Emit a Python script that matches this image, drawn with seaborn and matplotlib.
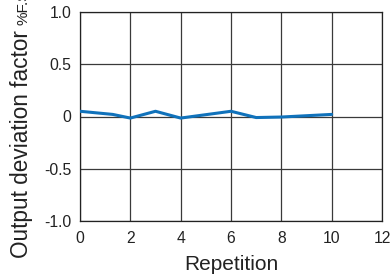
import numpy as np
import pandas as pd
import matplotlib
matplotlib.use("Agg")
import matplotlib.pyplot as plt
import seaborn as sns

# values
repetition = [0, 1.3, 2, 3, 4, 6, 7, 8, 10]
deviation = [0.05, 0.02, -0.015, 0.05, -0.015, 0.05, -0.01, -0.005, 0.02]
x_ticks = [0, 2, 4, 6, 8, 10, 12]
y_ticks = [-1.0, -0.5, 0, 0.5, 1.0]
y_tick_labels = ["-1.0", "-0.5", "0", "0.5", "1.0"]

sns.set_style("white")
plt.rcParams["font.family"] = ["Liberation Sans", "DejaVu Sans"]

df = pd.DataFrame({"Repetition": repetition, "Deviation": deviation})

fig = plt.figure(figsize=(3.9, 2.8), dpi=100)
ax = fig.add_axes([80 / 390, 1 - 221 / 280, 302 / 390, 209 / 280])

sns.lineplot(data=df, x="Repetition", y="Deviation", ax=ax,
             color="#1072bb", linewidth=2.2, zorder=3)

ax.set_xlim(0, 12)
ax.set_ylim(-1.0, 1.0)
ax.set_xticks(x_ticks)
ax.set_yticks(y_ticks)
ax.set_yticklabels(y_tick_labels)
ax.grid(True, color="#3a3a3a", linewidth=0.9)
ax.tick_params(axis="both", length=0, labelsize=11.3, colors="#222222")
ax.tick_params(axis="x", pad=7)
ax.tick_params(axis="y", pad=6)
for s in ax.spines.values():
    s.set_color("#222222")
    s.set_linewidth(0.9)

ax.set_xlabel("Repetition", fontsize=15, color="#222222", labelpad=7)
ax.set_ylabel("")

# y label: big text plus smaller unit, drawn rotated from the bottom
big = fig.text(28 / 390, 1 - 258 / 280, "Output deviation factor", rotation=90,
               rotation_mode="anchor", ha="left", va="baseline",
               fontsize=16.3, color="#222222")
fig.canvas.draw()
bb = big.get_window_extent().transformed(fig.transFigure.inverted())
fig.text(28 / 390, bb.y1 + 5 / 280, "%F.S.", rotation=90,
         rotation_mode="anchor", ha="left", va="baseline",
         fontsize=11, color="#222222")

fig.savefig("out.png", dpi=100)
